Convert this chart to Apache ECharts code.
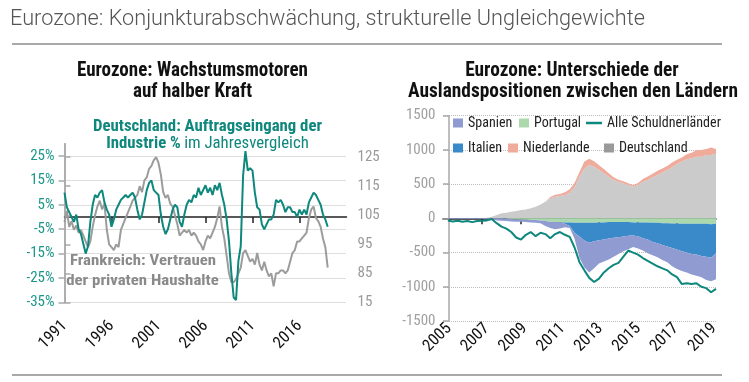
<!DOCTYPE html>
<html><head><meta charset="utf-8">
<script src="https://cdn.jsdelivr.net/npm/echarts@6/dist/echarts.min.js"></script>
<style>html,body{margin:0;padding:0;background:#fff}#c{width:749px;height:382px}</style>
</head><body><div id="c"></div>
<script>
// ---------- Left chart data (quarterly, from 1991 Q1) ----------
const leftStartYear = 1991;
const deOrders = [
  10, 4, 2, 0,   -2, 1, -5, -7,   -11, -15, -12, -2,   5, 9, 8, 10,
  11, 6, 3, 1,   -4, -1, 3, 5,    7, 8, 9, 8,          9, 10, 8, 3,
  -1, 1, 6, 11,  14, 15, 11, 10,  9, 1, -4, -7,        -5, -1, 3, 5,
  4, -2, -4, 1,  5, 7, 6, 9,      8, 12, 9, 11,        13, 10, 12, 9,
  13, 11, 14, 9, 5, -1, -10, -23, -33, -34, -18, -12,  17, 27, 19, 20,
  19, 10, 4, 3,  -3, -5, -3, -1,  -1, 1, 7, 6,         7, 5, 2, 4,
  4, 2, 2, 0,    3, 1, 3, 1,      6, 8, 10, 9,         7, 5, 1, -1,
  -4
];
const frConfidence = [
  102.6, 106.5, 101, 103,  100, 101.5, 99, 100,  98, 96, 94, 96,     101, 105, 108, 110,
  107, 109, 100, 95,       94, 93, 95, 94,       100, 102, 104, 106,  108, 110, 111, 112,
  115, 113, 117, 118,      121, 122, 124, 125,   123, 119, 113, 111,  112, 109, 108, 105,
  102, 98, 99, 100,        99, 100, 98, 99,      98, 96, 95, 93,      96, 98, 97, 99,
  101, 104, 108, 101,      97, 91, 85, 82,       82, 83, 85, 87,      92, 93, 91, 89,
  90, 88, 92, 88,          86, 89, 86, 84,       85, 80.5, 85, 85,    86, 86, 85, 86,
  89, 92, 93, 96,          96, 97, 98, 99,       104, 107, 108, 104,  103, 101, 97, 94,
  87
];
const leftYearTicks = [0, 5, 10, 15, 20, 25];
const leftYearLabels = ['1991', '1996', '2001', '2006', '2011', '2016'];
const pctTicks = [-35, -25, -15, -5, 5, 15, 25];
const idxTicks = [75, 85, 95, 105, 115, 125];
const idxTickLabels = ['15', '85', '95', '105', '115', '125'];

// ---------- Right chart data (quarterly, from 2005 Q2), EUR bn ----------
const rightStartYear = 2005;
const deutschland = [
  0, 0, 0, 0, 0, 0, 0,
  5, 10, 25, 50,      73, 83, 98, 108,     121, 130, 146, 170,   204, 243, 292, 316,
  326, 340, 375, 462, 609, 730, 780, 755,  706, 660, 609, 560,   535, 511, 487, 462,
  487, 535, 560, 600, 635, 670, 706, 745,  795, 830, 865, 877,   900, 900, 925, 925,
  945
];
const niederlande = [
  0, 0, 0, 0, 0, 0, 0,
  0, 0, 0, 0,   0, 0, 0, 0,   0, 0, 0, 0,   0, 0, 20, 30,
  30, 40, 50, 60,   70, 100, 90, 80,   70, 60, 50, 40,   30, 30, 25, 20,
  30, 40, 50, 50,   60, 60, 60, 70,    60, 60, 70, 80,   100, 100, 90, 110,
  70
];
const portugal = [
  0, 0, 0, 0, 0, 0, 0,
  0, 0, 0, 0,   0, -5, -10, -15,   -20, -20, -25, -25,   -30, -40, -50, -55,
  -55, -60, -60, -65,   -65, -65, -65, -65,   -60, -60, -55, -55,   -55, -55, -55, -60,
  -60, -60, -60, -65,   -65, -70, -70, -75,   -75, -80, -80, -80,   -80, -80, -80, -85,
  -80
];
const italien = [
  0, 0, 0, 0, 0, 0, 0,
  0, 0, 0, 0,   0, 0, 0, 0,   0, 0, 0, 0,   0, 0, 0, 0,
  0, -20, -50, -150,   -200, -260, -290, -270,   -260, -250, -240, -230,   -220, -210, -200, -190,
  -200, -230, -250, -280,   -300, -320, -340, -360,   -380, -400, -420, -440,   -450, -470, -480, -490,
  -430
];
const spanien = [
  -10, -10, -10, -10, -10, -10, -10,
  -10, -10, -10, -30,   -35, -35, -35, -35,   -30, -35, -35, -40,   -40, -70, -90, -105,
  -95, -50, -30, -85,   -315, -395, -435, -395,   -340, -320, -305, -275,   -245, -215, -195, -170,
  -180, -180, -200, -195,   -205, -220, -230, -265,   -285, -290, -290, -300,   -310, -310, -340, -345,
  -380
];
const alleSchuldner = [
  -30, -45, -35,
  -50, -40, -55, -40,   -35, -30, -10, -70,   -120, -150, -200, -280,   -310, -240, -200, -260,
  -210, -230, -290, -230,   -200, -240, -270, -430,   -640, -760, -870, -930,   -880, -790, -730, -680,
  -650, -560, -470, -500,   -530, -580, -620, -660,   -700, -730, -760, -820,   -860, -960, -950, -960,
  -950, -1000, -1020, -1080,   -1030
];
const rightYearTicks = [0, 2, 4, 6, 8, 10, 12, 14];
const rightYearLabels = ['2005', '2007', '2009', '2011', '2013', '2015', '2017', '2019'];

// ---------- helpers ----------
const leftX = deOrders.map((_, i) => i * 0.25);
const pairs = (xs, ys) => ys.map((v, i) => [xs[i], v]);
// quarterly categories 2005Q1 .. 2019Q1; data series start at 2005Q2
const rightCats = [];
for (let i = 0; i <= deutschland.length; i++) rightCats.push((rightStartYear + Math.floor(i / 4)) + 'Q' + (i % 4 + 1));
const pad = arr => ['-'].concat(arr);

// font selection: prefer an installed condensed face
const mctx = document.createElement('canvas').getContext('2d');
function mw(t, f) { mctx.font = f; return mctx.measureText(t).width; }
function hasFont(name) {
  const s = 'Eurozone: Wachstumsmotoren 1234567890';
  return Math.abs(mw(s, '20px monospace') - mw(s, "20px '" + name + "', monospace")) > 0.5 &&
         Math.abs(mw(s, '20px serif') - mw(s, "20px '" + name + "', serif")) > 0.5;
}
const condCands = ['Roboto Condensed', 'Noto Sans Condensed', 'Open Sans Condensed', 'DejaVu Sans Condensed',
                   'Liberation Sans Narrow', 'Arial Narrow', 'Noto Sans Display Condensed', 'Noto Sans SemiCondensed'];
const found = condCands.find(hasFont);
const CF = found ? "'" + found + "', Roboto, sans-serif" : "Roboto, sans-serif";
const fit = (txt, target, base, weight) => Math.min(base, base * target / mw(txt, (weight || '') + ' ' + base + 'px ' + CF));

const TEAL = '#0e877c';
const GREY_LINE = '#9c9c9c';
const AXIS = '#a9a9a9';

const xLabFS = 16.5;
const yLabFS = 15;
const legFS = fit('Alle Schuldnerländer', 114, 15);

function gtext(txt, cx, cy, size, weight, fill, scale) {
  const font = weight + ' ' + size + 'px ' + CF;
  return {type: 'text', x: cx, y: cy, scaleX: scale, z: 1,
          style: {text: txt, font: font, fill: fill, align: 'center', verticalAlign: 'middle'}};
}
const tScaleL = Math.min(1.1, 231 / mw('Eurozone: Wachstumsmotoren', 'bold 21px ' + CF));
const tScaleR = Math.min(1.1, 330 / mw('Auslandspositionen zwischen den Ländern', 'bold 21px ' + CF));
const tealScale = Math.min(1.1, 229 / mw('Deutschland: Auftragseingang der', 'bold 16.5px ' + CF));
const greyScale = Math.min(1.1, 146 / mw('Frankreich: Vertrauen', 'bold 15.5px ' + CF));

function legendAt(name, left, top, extra) {
  return Object.assign({left: left, top: top, itemWidth: 10, itemHeight: 9, icon: 'rect', padding: 0,
    data: [name], textStyle: {fontFamily: CF, fontSize: legFS, color: '#222'}}, extra || {});
}

const chart = echarts.init(document.getElementById('c'), null, {renderer: 'canvas'});

const option = {
  animation: false,
  backgroundColor: '#fff',
  textStyle: {fontFamily: CF},
  grid: [
    {left: 64.5, top: 143.8, width: 282, height: 158.6},
    {left: 443, top: 115.7, width: 273, height: 205.3}
  ],
  xAxis: [
    {gridIndex: 0, type: 'value', min: 0, max: 30, position: 'bottom',
     axisLine: {show: false, onZero: false}, axisTick: {show: false}, splitLine: {show: false},
     axisLabel: {customValues: leftYearTicks, rotate: 45, margin: 21, fontSize: xLabFS, color: '#111', fontFamily: CF,
       formatter: v => leftYearLabels[leftYearTicks.indexOf(v)] || ''}},
    {gridIndex: 0, type: 'value', min: 0, max: 30, position: 'bottom',
     axisLine: {show: true, onZero: true, onZeroAxisIndex: 0, lineStyle: {color: '#222', width: 1.5}},
     axisTick: {show: true, customValues: [5, 10, 15, 20, 25], length: 6, lineStyle: {color: '#222', width: 1.5}},
     axisLabel: {show: false}, splitLine: {show: false}},
    {gridIndex: 1, type: 'value', min: -0.317, max: 14.105, position: 'bottom',
     axisLine: {show: false, onZero: false}, axisTick: {show: false}, splitLine: {show: false},
     axisLabel: {customValues: rightYearTicks, rotate: 45, margin: 5, fontSize: xLabFS, color: '#111', fontFamily: CF,
       formatter: v => rightYearLabels[rightYearTicks.indexOf(v)] || ''}},
    {gridIndex: 1, type: 'value', min: 0, max: 14, position: 'bottom',
     axisLine: {show: true, onZero: true, onZeroAxisIndex: 2, lineStyle: {color: '#222', width: 1.5}},
     axisTick: {show: true, customValues: [2, 4, 6, 8, 10, 12], length: 6, lineStyle: {color: '#222', width: 1.5}},
     axisLabel: {show: false}, splitLine: {show: false}},
    {gridIndex: 1, type: 'category', data: rightCats, boundaryGap: false, position: 'top', show: false}
  ],
  yAxis: [
    {gridIndex: 0, type: 'value', min: -35, max: 30, position: 'left',
     axisLine: {show: true, lineStyle: {color: AXIS, width: 1.5}},
     axisTick: {show: true, customValues: pctTicks, length: 6, lineStyle: {color: AXIS, width: 1.5}},
     axisLabel: {customValues: pctTicks, formatter: v => v + '%', color: '#1d978b', fontSize: yLabFS, margin: 10, fontFamily: CF},
     splitLine: {show: true, lineStyle: {type: 'dotted', color: '#bdbdbd', width: 1}}},
    {gridIndex: 0, type: 'value', min: 75, max: 129.6, position: 'right',
     axisLine: {show: true, lineStyle: {color: AXIS, width: 1.5}},
     axisTick: {show: true, customValues: idxTicks, length: 6, lineStyle: {color: AXIS, width: 1.5}},
     axisLabel: {customValues: idxTicks, formatter: v => idxTickLabels[idxTicks.indexOf(v)] || '', color: '#9a9a9a', fontSize: yLabFS, margin: 11, fontFamily: CF},
     splitLine: {show: false}},
    {gridIndex: 1, type: 'value', min: -1500, max: 1500, interval: 500, position: 'left', offset: -3.5,
     axisLine: {show: true, lineStyle: {color: AXIS, width: 1.5}},
     axisTick: {show: true, length: 6, lineStyle: {color: AXIS, width: 1.5}},
     axisLabel: {color: '#a0a0a0', fontSize: yLabFS, margin: 11, fontFamily: CF, formatter: v => String(v)},
     splitLine: {show: true, lineStyle: {type: 'dotted', color: '#bdbdbd', width: 1}}}
  ],
  legend: [
    legendAt('Spanien', 453, 116),
    legendAt('Portugal', 519, 116),
    legendAt('Alle Schuldnerländer', 586, 116, {itemWidth: 16, itemHeight: 2.5,
      data: [{name: 'Alle Schuldnerländer', icon: 'rect', itemStyle: {color: TEAL}}]}),
    legendAt('Italien', 453, 141),
    legendAt('Niederlande', 508, 141),
    legendAt('Deutschland', 604, 141, {data: [{name: 'Deutschland', itemStyle: {color: '#9a9a9a'}}]})
  ],
  series: [
    {name: 'Frankreich', type: 'line', xAxisIndex: 0, yAxisIndex: 1, data: pairs(leftX, frConfidence),
     symbol: 'none', lineStyle: {color: GREY_LINE, width: 2}, itemStyle: {color: GREY_LINE}, z: 3},
    {name: 'Deutschland Auftragseingang', type: 'line', xAxisIndex: 1, yAxisIndex: 0, data: pairs(leftX, deOrders),
     symbol: 'none', lineStyle: {color: TEAL, width: 2}, itemStyle: {color: TEAL}, z: 4},

    {name: 'Deutschland', type: 'line', xAxisIndex: 4, yAxisIndex: 2, stack: 'tb', data: pad(deutschland),
     symbol: 'none', lineStyle: {width: 0}, itemStyle: {color: '#cbcbcb'}, areaStyle: {color: '#cbcbcb', opacity: 1}},
    {name: 'Niederlande', type: 'line', xAxisIndex: 4, yAxisIndex: 2, stack: 'tb', data: pad(niederlande),
     symbol: 'none', lineStyle: {width: 0}, itemStyle: {color: '#efab9b'}, areaStyle: {color: '#efab9b', opacity: 1}},
    {name: 'Portugal', type: 'line', xAxisIndex: 4, yAxisIndex: 2, stack: 'tb', data: pad(portugal),
     symbol: 'none', lineStyle: {width: 0}, itemStyle: {color: '#abd9ad'}, areaStyle: {color: '#abd9ad', opacity: 1}},
    {name: 'Italien', type: 'line', xAxisIndex: 4, yAxisIndex: 2, stack: 'tb', data: pad(italien),
     symbol: 'none', lineStyle: {width: 0}, itemStyle: {color: '#3a89c9'}, areaStyle: {color: '#3a89c9', opacity: 1}},
    {name: 'Spanien', type: 'line', xAxisIndex: 4, yAxisIndex: 2, stack: 'tb', data: pad(spanien),
     symbol: 'none', lineStyle: {width: 0}, itemStyle: {color: '#8f9bd1'}, areaStyle: {color: '#8f9bd1', opacity: 1}},
    {name: 'Alle Schuldnerländer', type: 'line', xAxisIndex: 4, yAxisIndex: 2, data: pad(alleSchuldner),
     symbol: 'none', lineStyle: {color: TEAL, width: 2}, itemStyle: {color: TEAL}, z: 5}
  ],
  graphic: [
    {type: 'text', left: 10, top: 9, style: {text: 'Eurozone: Konjunkturabschwächung, strukturelle Ungleichgewichte',
      font: "300 21.7px Roboto, 'Liberation Sans', sans-serif", fill: '#555'}},
    {type: 'line', shape: {x1: 12, y1: 44, x2: 722, y2: 44}, style: {stroke: '#8c8c8c', lineWidth: 1.5}},
    {type: 'line', shape: {x1: 12, y1: 375, x2: 722, y2: 375}, style: {stroke: '#8c8c8c', lineWidth: 1.5}},
    gtext('Eurozone: Wachstumsmotoren', 192.5, 71, 21, 'bold', '#111', tScaleL),
    gtext('auf halber Kraft', 192.5, 91.5, 21, 'bold', '#111', tScaleL),
    gtext('Eurozone: Unterschiede der', 572, 71, 21, 'bold', '#111', tScaleR),
    gtext('Auslandspositionen zwischen den Ländern', 573, 91.5, 21, 'bold', '#111', tScaleR),
    gtext('Deutschland: Auftragseingang der', 207.5, 127, 16.5, 'bold', TEAL, tealScale),
    {type: 'text', x: 207.5, y: 143.5, scaleX: tealScale, z: 1,
     style: {text: '{b|Industrie %} {r|im Jahresvergleich}', align: 'center', verticalAlign: 'middle',
       rich: {b: {font: 'bold 16.5px ' + CF, fill: TEAL}, r: {font: '16.5px ' + CF, fill: TEAL}}}},
    gtext('Frankreich: Vertrauen', 143, 261.5, 15.5, 'bold', '#8a8a8a', greyScale),
    gtext('der privaten Haushalte', 142.5, 281, 15.5, 'bold', '#8a8a8a', greyScale)
  ]
};
chart.setOption(option);
</script>
</body></html>
